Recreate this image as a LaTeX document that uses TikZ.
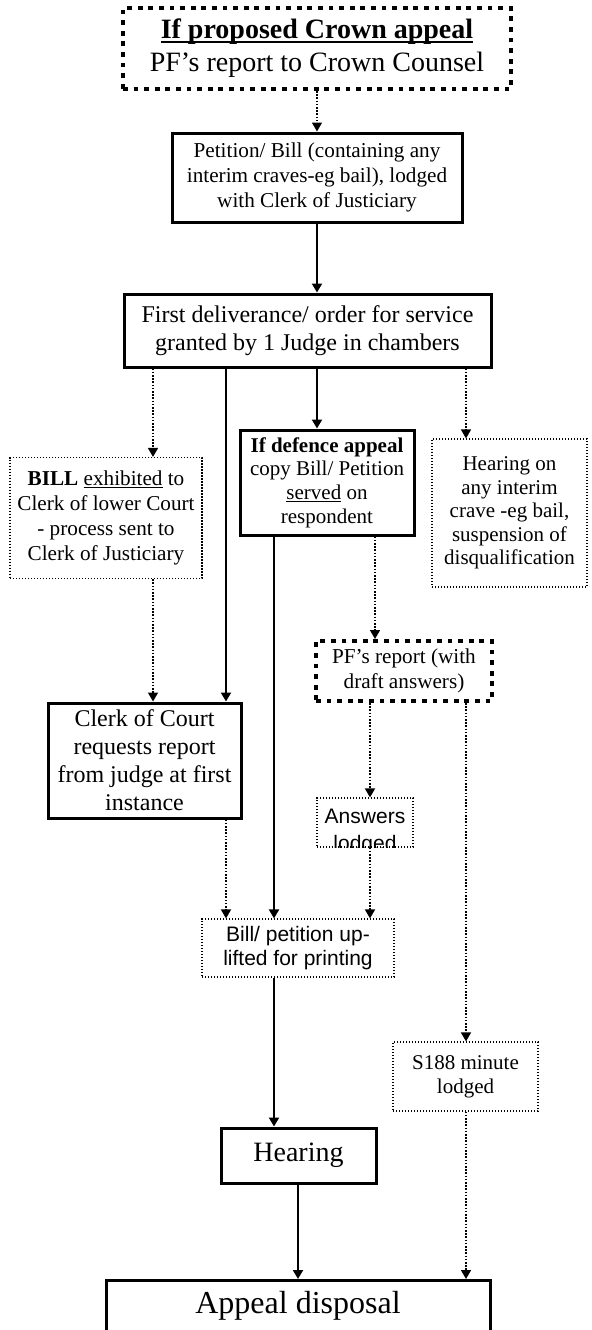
\documentclass[tikz,border=0pt]{standalone}
\usepackage{fontspec}
\setmainfont{Liberation Serif}
\newfontfamily\arialfont{Liberation Sans}
\usepackage{tikz}
\usetikzlibrary{arrows.meta,positioning,calc}

\newcommand{\bigtxt}{\fontsize{14}{16.5}\selectfont}
\newcommand{\midtxt}{\fontsize{12}{14}\selectfont}
\newcommand{\smalltxt}{\fontsize{10.6}{12.5}\selectfont}
\newcommand{\tinytxt}{\fontsize{10.5}{11.8}\selectfont}
\newcommand{\sanstxt}{\arialfont\fontsize{10.5}{12}\selectfont}
% underline just below the baseline
\newcommand{\undl}[1]{\setbox0\hbox{#1}\rlap{\rule[-0.13em]{\wd0}{0.06em}}\box0\relax}

\begin{document}
\begin{tikzpicture}[
    x=0.5pt, y=-0.5pt,
    solidbox/.style={rectangle, draw, line width=1.5pt, align=center, inner sep=1pt},
    dotbox/.style={rectangle, draw, line width=0.6pt, dash pattern=on 0.6pt off 0.9pt, align=center, inner sep=1pt},
    heavybox/.style={rectangle, draw, line width=2pt, dash pattern=on 2.4pt off 2.9pt, align=center, inner sep=1pt},
    flow/.style={-{Triangle[width=5pt,length=4.5pt]}, line width=1pt},
    dotflow/.style={-{Triangle[width=5pt,length=4.5pt]}, line width=0.8pt, dash pattern=on 0.8pt off 0.8pt}
]
    \useasboundingbox (0,0) rectangle (591,1330);

    % columns of the connectors
    \coordinate (colA) at (153,0);
    \coordinate (colB) at (226,0);
    \coordinate (colC) at (274,0);
    \coordinate (colH) at (298,0);
    \coordinate (colD) at (317,0);
    \coordinate (colE) at (370,0);
    \coordinate (colF) at (375,0);
    \coordinate (colG) at (466,0);

    \node[heavybox, minimum width=194pt, minimum height=40.5pt, font=\bigtxt] (crown) at (317,48.5) {
        \textbf{\undl{If proposed Crown appeal}}\\
        PF's report to Crown Counsel
    };

    \node[solidbox, minimum width=145pt, minimum height=44.5pt, font=\smalltxt] (petition) at (317,177.5) {
        Petition/ Bill (containing any\\
        interim craves-eg bail), lodged\\
        with Clerk of Justiciary
    };

    \node[solidbox, minimum width=183.5pt, minimum height=36.5pt, font=\midtxt] (first) at (307.5,330.5) {
        First deliverance/ order for service\\
        granted by 1 Judge in chambers
    };

    \node[dotbox, minimum width=96pt, minimum height=60.5pt, font=\smalltxt] (bill) at (106,518) {
        \textbf{BILL} \undl{exhibited} to\\
        Clerk of lower Court\\
        - process sent to\\
        Clerk of Justiciary
    };

    \node[solidbox, minimum width=87pt, minimum height=52.5pt, font=\tinytxt] (defence) at (327,482.5) {
        \textbf{If defence appeal}\\
        copy Bill/ Petition\\
        \undl{served} on\\
        respondent
    };

    \node[dotbox, minimum width=77.5pt, minimum height=74pt, font=\tinytxt] (hearon) at (509.5,513) {
        Hearing on\\
        any interim\\
        crave -eg bail,\\
        suspension of\\
        disqualification
    };

    \node[solidbox, minimum width=96.5pt, minimum height=57.5pt, font=\midtxt] (clerk) at (144.5,760.5) {
        Clerk of Court\\
        requests report\\
        from judge at first\\
        instance
    };

    \node[heavybox, minimum width=88pt, minimum height=30pt, font=\smalltxt] (pfrep) at (404,671) {
        PF's report (with\\
        draft answers)
    };

    \node[dotbox, minimum width=48pt, minimum height=24.5pt] (answers) at (365,822.5) {};
    \begin{scope}
        \clip (answers.south west) rectangle (answers.north east);
        \node[anchor=north, align=center, inner sep=0pt, font=\arialfont\fontsize{10.5}{13.5}\selectfont] (answerstxt) at (365,809) {Answers\\lodged};
    \end{scope}

    \node[dotbox, minimum width=96pt, minimum height=29pt, font=\sanstxt] (uplift) at (298,948) {
        Bill/ petition up-\\
        lifted for printing
    };

    \node[dotbox, minimum width=72.5pt, minimum height=34.5pt, font=\tinytxt] (sminute) at (465.5,1076.5) {
        S188 minute\\
        lodged
    };

    \node[solidbox, minimum width=77.5pt, minimum height=27.5pt, font=\bigtxt] (hearing) at (298.5,1155.5) {Hearing};

    \node[solidbox, anchor=north, minimum width=192pt, inner ysep=5pt, text height=11.5pt, text depth=45pt,
          font=\fontsize{16}{19}\selectfont] (appeal) at (298,1279) {Appeal disposal};

    % connectors
    \draw[dotflow] (colD |- crown.south) -- (colD |- petition.north);
    \draw[flow] (colD |- petition.south) -- (colD |- first.north);
    \draw[dotflow] (colA |- first.south) -- (colA |- bill.north);
    \draw[flow] (colB |- first.south) -- (colB |- clerk.north);
    \draw[flow] (colD |- first.south) -- (colD |- defence.north);
    \draw[dotflow] (colG |- first.south) -- (colG |- hearon.north);
    \draw[dotflow] (colA |- bill.south) -- (colA |- clerk.north);
    \draw[flow] (colC |- defence.south) -- (colC |- uplift.north);
    \draw[dotflow] (colF |- defence.south) -- (colF |- pfrep.north);
    \draw[dotflow] (colB |- clerk.south) -- (colB |- uplift.north);
    \draw[dotflow] (colE |- pfrep.south) -- (colE |- answers.north);
    \draw[dotflow] (colE |- answers.south) -- (colE |- uplift.north);
    \draw[dotflow] (colG |- pfrep.south) -- (colG |- sminute.north);
    \draw[flow] (colC |- uplift.south) -- (colC |- hearing.north);
    \draw[flow] (colH |- hearing.south) -- (colH |- appeal.north);
    \draw[dotflow] (colG |- sminute.south) -- (colG |- appeal.north);
\end{tikzpicture}
\end{document}
